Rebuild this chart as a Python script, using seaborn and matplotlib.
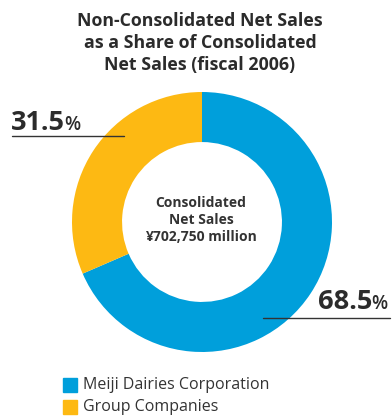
import matplotlib
matplotlib.use("Agg")
import matplotlib.pyplot as plt
import seaborn as sns
from matplotlib.patches import Rectangle

categories = ["Meiji Dairies Corporation", "Group Companies"]
shares = [68.5, 31.5]
colors = ["#009FDB", "#FDB913"]
title_lines = ["Non-Consolidated Net Sales", "as a Share of Consolidated", "Net Sales (fiscal 2006)"]
center_lines = ["Consolidated", "Net Sales", "¥702,750 million"]

sns.set_theme(style="white")
plt.rcParams["font.family"] = ["Open Sans", "DejaVu Sans"]

W, H = 392, 416
fig = plt.figure(figsize=(W / 100, H / 100), dpi=100)
fig.patch.set_facecolor("white")

def fx(px):
    return px / W

def fy(py):
    return 1 - py / H

# donut
cx, cy, r = 202, 222, 130
ax = fig.add_axes([fx(cx - r), fy(cy + r), 2 * r / W, 2 * r / H])
ax.pie(shares, colors=colors, startangle=90, counterclock=False, radius=1,
       wedgeprops=dict(width=0.385, edgecolor="none"))
ax.set_xlim(-1, 1)
ax.set_ylim(-1, 1)
ax.set_aspect("auto")
ax.axis("off")

# title
fig.text(fx(200), fy(43), "\n".join(title_lines), ha="center", va="center",
         fontsize=12.8, fontweight="bold", color="#2b2b2b", linespacing=1.27)

# center text
fig.text(fx(201), fy(220), "\n".join(center_lines), ha="center", va="center",
         fontsize=10, fontweight="bold", color="#333333", linespacing=1.25)

# value callouts
def callout(x_num, y_base, value, line_x0, line_x1, line_y):
    t = fig.text(fx(x_num), fy(y_base), f"{value}", ha="left", va="baseline",
                 fontsize=19.5, fontweight="bold", color="#2b2b2b")
    fig.canvas.draw()
    bb = t.get_window_extent()
    fig.text(bb.x1 / W - fx(1), fy(y_base), "%", ha="left", va="baseline",
             fontsize=13.5, fontweight="semibold", color="#2b2b2b")
    fig.add_artist(plt.Line2D([fx(line_x0), fx(line_x1)], [fy(line_y), fy(line_y)],
                              color="#333333", lw=1.0))

callout(11, 130, shares[1], 12, 124, 136)
callout(318, 309, shares[0], 263, 390, 318)

# legend
for i, (name, col) in enumerate(zip(categories, colors)):
    y = 385 + i * 22
    fig.add_artist(Rectangle((fx(63), fy(y + 7)), fx(14), 14 / H, color=col,
                             transform=fig.transFigure))
    fig.text(fx(83), fy(y), name, ha="left", va="center", fontsize=11.5,
             color="#333333")

fig.savefig("out.png", dpi=100, facecolor="white")
